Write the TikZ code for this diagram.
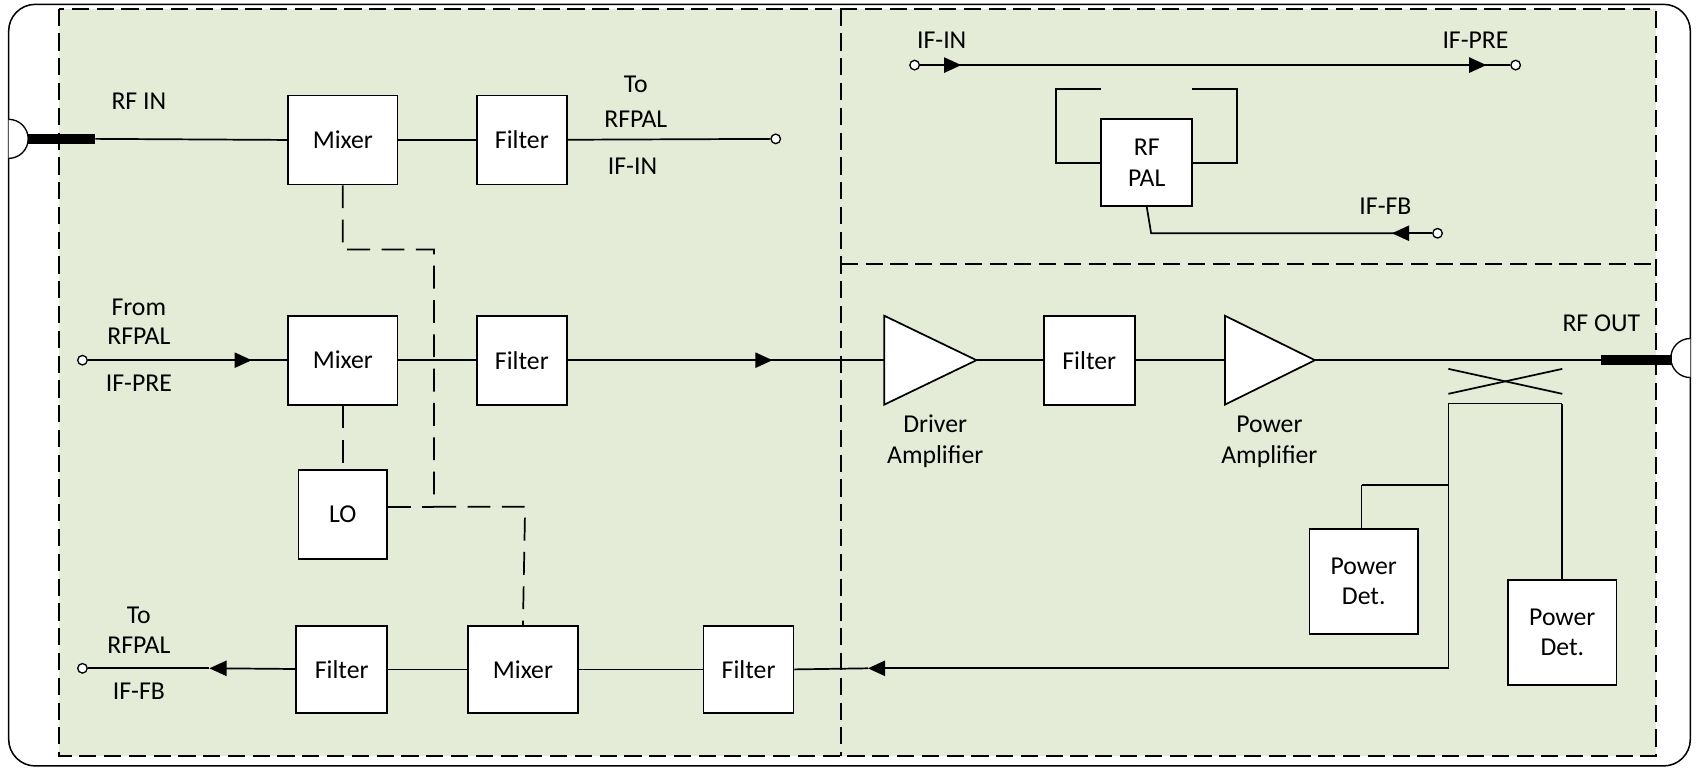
\documentclass[tikz,border=0pt]{standalone}
\usepackage{fontspec}
\setmainfont{Carlito}
\usetikzlibrary{arrows.meta}
\definecolor{panel}{RGB}{228,235,214}
\begin{document}
\begin{tikzpicture}[x=0.02cm,y=-0.02cm,
  box/.style={draw,line width=0.9pt,fill=white,inner sep=0pt,font=\fontsize{13.5}{16}\selectfont,align=center},
  lbl/.style={font=\fontsize{13.5}{16}\selectfont,inner sep=0pt},
  ln/.style={line width=0.9pt},
  dsh/.style={line width=0.9pt,dash pattern=on 12pt off 6pt},
  pdash/.style={line width=1pt,dash pattern=on 9pt off 4pt},
  arr/.style={ln,-{Triangle[length=9pt,width=8pt]}},
  port/.style={circle,draw,fill=white,inner sep=0pt,minimum size=5pt,line width=0.7pt}]
\useasboundingbox (0,0) rectangle (1566,712);
\fill[white] (0,0) rectangle (1566,712);
\draw[line width=0.8pt,rounded corners=14pt] (8,4) rectangle (1558,706);
\fill[panel] (54,8) rectangle (1526,697);
\draw[pdash] (54,8) rectangle (1526,697);
\draw[pdash] (775,8) -- (775,697);
\draw[pdash] (775,243) -- (1526,243);
% connectors
\draw[line width=0.7pt,fill=white] (8,146) arc (90:-90:18);
\draw[line width=0.7pt,fill=white] (1558,348) arc (90:270:18);
% boxes
\node[box,minimum width=2.02cm,minimum height=1.64cm] (m1) at (316,129) {Mixer};
\node[box,minimum width=1.66cm,minimum height=1.64cm] (f1) at (481,129) {Filter};
\node[box,minimum width=2.02cm,minimum height=1.64cm] (m2) at (316,332) {Mixer};
\node[box,minimum width=1.66cm,minimum height=1.64cm] (f2) at (481,332) {Filter};
\node[box,minimum width=1.64cm,minimum height=1.64cm] (lo) at (316,474) {LO};
\node[box,minimum width=1.68cm,minimum height=1.6cm] (f5) at (315,617) {Filter};
\node[box,minimum width=2.02cm,minimum height=1.6cm] (m3) at (482,617) {Mixer};
\node[box,minimum width=1.66cm,minimum height=1.6cm] (f4) at (690,617) {Filter};
\node[box,minimum width=1.68cm,minimum height=1.64cm] (f3) at (1004,332) {Filter};
\node[box,minimum width=1.68cm,minimum height=1.6cm] (rfpal) at (1057,150) {RF\\PAL};
\node[box,minimum width=2cm,minimum height=1.94cm] (pd1) at (1257,536) {Power\\Det.};
\node[box,minimum width=2cm,minimum height=1.94cm] (pd2) at (1440,583) {Power\\Det.};
\coordinate (da) at (815,332);
\draw[ln,fill=white] (815,291) -- (900,332) -- (815,373) -- cycle;
\coordinate (pa) at (1129,332);
\draw[ln,fill=white] (1129,291) -- (1212,332) -- (1129,373) -- cycle;
% row 1
\draw[line width=5pt] (26,128) -- (88,128);
\draw[ln] (88,128) -- (m1.west);
\draw[ln] (m1) -- (f1);
\node[port] (p1) at (715,128) {};
\draw[ln] (f1) -- (p1);
\node[lbl] at (586,78) {To};
\node[lbl] at (586,110) {RFPAL};
\node[lbl] at (583,153) {IF-IN};
\node[lbl] at (128,93) {RF IN};
% row 2
\node[port] (p2) at (76,332) {};
\draw[arr] (p2) -- (232,332);
\draw[ln] (225,332) -- (m2.west);
\draw[ln] (m2) -- (f2);
\draw[arr] (f2) -- (712,332);
\draw[ln] (705,332) -- (da);
\node[lbl] at (128,283) {From};
\node[lbl] at (128,310) {RFPAL};
\node[lbl] at (128,353) {IF-PRE};
\draw[ln] (900,332) -- (f3);
\draw[ln] (f3) -- (pa);
\draw[ln] (1212,332) -- (1476,332);
\draw[line width=5pt] (1476,332) -- (1541,332);
\node[lbl] at (1476,298) {RF OUT};
\node[lbl] at (862,391) {Driver};
\node[lbl] at (862,421) {Amplifier};
\node[lbl] at (1170,391) {Power};
\node[lbl] at (1170,421) {Amplifier};
% coupler
\draw[ln] (1335,340) -- (1440,363);
\draw[ln] (1335,363) -- (1440,340);
\draw[ln] (1335,372) -- (1440,372);
\draw[ln] (1440,372) -- (pd2.north -| 1440,0);
\draw[ln] (1255,447) -- (1335,447);
\draw[ln] (1255,447) -- (pd1.north -| 1255,0);
% feedback row
\draw[ln] (1335,372) -- (1335,616) -- (807,616);
\draw[arr] (807,616) -- (800,616);
\draw[ln] (800,616) -- (f4.east);
\draw[ln] (f4) -- (m3);
\draw[ln] (m3) -- (f5);
\node[port] (p3) at (76,616) {};
\draw[ln] (f5) -- (200,616);
\draw[arr] (200,616) -- (193,616);
\draw[ln] (193,616) -- (p3);
\node[lbl] at (128,567) {To};
\node[lbl] at (128,595) {RFPAL};
\node[lbl] at (128,637) {IF-FB};
% LO dashed
\draw[dsh] (m1.south) -- (316,230) -- (400,230) -- (400,467) -- (484,467) -- (m3.north);
\draw[dsh] (lo.east |- 0,467) -- (400,467);
\draw[dsh] (m2.south) -- (lo.north);
% top right
\node[port] (p4) at (843,60) {};
\node[port] (p5) at (1397,60) {};
\draw[arr] (p4) -- (886,60);
\draw[arr] (879,60) -- (1370,60);
\draw[ln] (1362,60) -- (p5);
\node[lbl] at (868,37) {IF-IN};
\node[lbl] at (1360,37) {IF-PRE};
\draw[ln] (1015,150) -- (973,150) -- (973,82) -- (1015,82);
\draw[ln] (1099,150) -- (1140,150) -- (1140,82) -- (1099,82);
\node[port] (p6) at (1325,215) {};
\draw[ln] (rfpal.south) -- (1061,215) -- (1290,215);
\draw[arr] (p6) -- (1283,215);
\node[lbl] at (1277,190) {IF-FB};
\end{tikzpicture}
\end{document}
